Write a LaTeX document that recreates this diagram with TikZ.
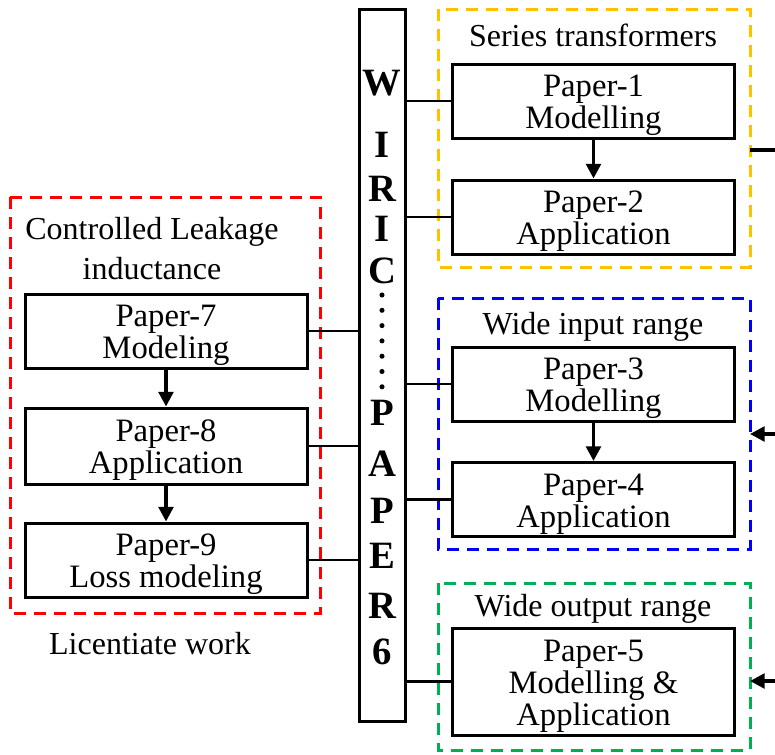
\documentclass[tikz,border=0pt]{standalone}
\usepackage{fontspec}
\setmainfont{Liberation Serif}
\usepackage{xcolor}
\usetikzlibrary{arrows.meta,positioning}

\definecolor{amarillo}{RGB}{255,192,0}
\definecolor{verde}{RGB}{0,176,80}
\newcommand{\arr}{\rule{0pt}{23pt}}

\tikzset{
    paper/.style={draw, line width=2.25pt, align=center, inner sep=0pt,
        minimum width=212pt, minimum height=55.5pt,
        font=\fontsize{24.5}{24}\selectfont},
    grupo/.style={line width=2.25pt, dash pattern=on 9pt off 6pt},
    titulo/.style={align=center, inner sep=0pt,
        font=\fontsize{24}{30}\selectfont},
    enlace/.style={line width=1.9pt},
    flecha/.style={line width=2.6pt, -{Triangle[length=11pt,width=11pt]}},
    letra/.style={inner sep=0pt, font=\fontsize{29}{29}\selectfont\bfseries}
}

\begin{document}
\begin{tikzpicture}[x=0.75pt, y=-0.75pt]
        \useasboundingbox (0,0) rectangle (775,754);

        % Paso 1: Dibuja los grupos punteados
        \draw[grupo, amarillo] (438,9) rectangle (750,267);
        \draw[grupo, blue] (438,298) rectangle (750,549);
        \draw[grupo, verde] (438,583) rectangle (750,750);
        \draw[grupo, red] (10,197) rectangle (320,613);

        % Paso 2: Titulos de los grupos
        \node[titulo] (tserie) at (593,35) {Series transformers};
        \node[titulo] (tentrada) at (593,327) {Wide input range};
        \node[titulo] (tsalida) at (593,609) {Wide output range};
        \node[titulo] (tleak) at (152,249) {Controlled Leakage\\inductance};
        \node[titulo] (tlic) at (150,644) {Licentiate work};

        % Paso 3: Barra vertical WIRIC ... PAPER6
        \node[draw, line width=2.25pt, minimum width=34.5pt, minimum height=534pt,
            inner sep=0pt] (barra) at (382,365) {};
        \foreach \l/\y [count=\i] in {W/83, I/145, R/189, I/229, C/271,
                P/413, A/464, P/511, E/556, R/606, 6/652}
            \node[letra] (l\i) at (382,\y) {\l};
        \foreach \k in {0,...,6}
            \fill (382,295+15.3*\k) circle (1.9pt);

        % Paso 4: Cajas de los articulos
        \node[paper] (p1) at (593.5,101) {\arr Paper-1\\Modelling};
        \node[paper] (p2) at (593.5,217) {\arr Paper-2\\Application};
        \node[paper] (p3) at (593.5,384) {\arr Paper-3\\Modelling};
        \node[paper] (p4) at (593.5,499.5) {\arr Paper-4\\Application};
        \node[paper, minimum height=80.25pt] (p5) at (593.5,681.5)
            {\arr Paper-5\\Modelling \&\\Application};
        \node[paper, minimum width=211.5pt] (p7) at (166,331)
            {\arr Paper-7\\Modeling};
        \node[paper, minimum width=211.5pt, minimum height=57pt] (p8) at (166,446)
            {\arr Paper-8\\Application};
        \node[paper, minimum width=211.5pt] (p9) at (166,560)
            {\arr Paper-9\\Loss modeling};

        % Paso 5: Enlaces con la barra
        \foreach \p in {p1,p2,p3,p4,p5}
            \draw[enlace] (\p.west) -- (\p.west -| barra.east);
        \foreach \p in {p7,p8,p9}
            \draw[enlace] (\p.east) -- (\p.east -| barra.west);

        % Paso 6: Flechas entre articulos
        \draw[flecha] (p1) -- (p2);
        \draw[flecha] (p3) -- (p4);
        \draw[flecha] (p7) -- (p8);
        \draw[flecha] (p8) -- (p9);

        % Paso 7: Flechas del borde derecho
        \coordinate (s1) at (775,150);
        \coordinate (s2) at (775,434);
        \coordinate (s3) at (775,681);
        \draw[line width=2.6pt] (s1) -- ++(-25,0);
        \draw[flecha] (s2) -- ++(-25,0);
        \draw[flecha] (s3) -- ++(-25,0);
    \end{tikzpicture}
\end{document}
